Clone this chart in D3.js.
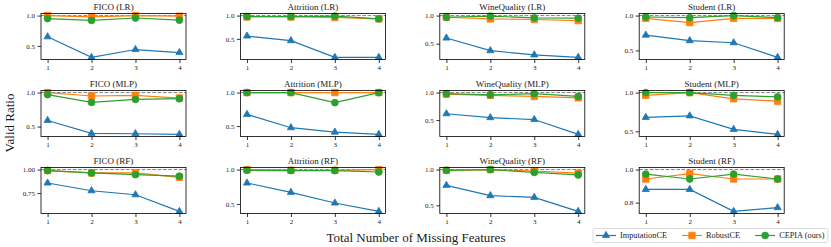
<!DOCTYPE html>
<html>
<head>
<meta charset="utf-8">
<script src="https://cdn.jsdelivr.net/npm/d3@7"></script>
<style>
body{margin:0;background:#fff}
svg text{font-family:"Liberation Serif","DejaVu Serif",serif;fill:#1a1a1a}
</style>
</head>
<body>
<svg id="chart" width="831" height="247"></svg>
<script>
var datasets = ['FICO','Attrition','WineQuality','Student'];
var models = ['LR','MLP','RF'];
var missing = [1,2,3,4];
var methods = ['ImputationCE','RobustCE','CEPIA (ours)'];
var colors = ['#1f77b4','#ff7f0e','#2ca02c'];
var shapes = ['triangle','square','circle'];

// [model][dataset] -> values at 1..4 missing features
var imputationCE = [
  [[0.65,0.31,0.44,0.39],[0.56,0.46,0.10,0.10],[0.60,0.375,0.30,0.255],[0.72,0.64,0.61,0.40]],
  [[0.59,0.40,0.395,0.385],[0.675,0.475,0.41,0.375],[0.615,0.545,0.51,0.24],[0.68,0.70,0.525,0.46]],
  [[0.857,0.775,0.732,0.555],[0.805,0.67,0.515,0.393],[0.78,0.635,0.612,0.415],[0.88,0.88,0.747,0.77]]
];
var robustCE = [
  [[1.0,0.98,1.0,0.99],[0.97,0.97,0.96,0.93],[0.97,0.94,0.93,0.91],[0.96,0.90,0.96,0.96]],
  [[1.0,0.95,0.96,0.92],[1.0,1.0,1.0,1.0],[0.97,0.95,0.93,0.905],[0.965,1.0,0.92,0.89]],
  [[0.99,0.964,0.964,0.918],[1.0,0.99,0.99,1.0],[0.99,1.0,0.98,0.95],[0.943,0.975,0.943,0.943]]
];
var cepia = [
  [[0.95,0.92,0.96,0.925],[0.98,0.98,0.99,0.93],[0.97,0.99,0.96,0.955],[0.98,0.97,1.0,0.97]],
  [[0.97,0.855,0.90,0.91],[1.0,1.0,0.85,1.0],[0.98,0.96,0.98,0.93],[1.0,1.0,0.965,0.945]],
  [[0.99,0.964,0.946,0.93],[0.99,0.985,0.985,0.965],[0.99,1.0,0.96,0.925],[0.973,0.943,0.973,0.943]]
];
var yTicks = [
  [[0.5,1.0],[0.5,1.0],[0.5,1.0],[0.5,1.0]],
  [[0.5,1.0],[0.5,1.0],[0.5,1.0],[0.5,1.0]],
  [[0.75,1.00],[0.5,1.0],[0.5,1.0],[0.8,1.0]]
];
var yTickFormat = [
  ['.1f','.1f','.1f','.1f'],
  ['.1f','.1f','.1f','.1f'],
  ['.2f','.1f','.1f','.1f']
];

var config = {
  left:41, colStep:199.4, top:13.5, rowStep:77,
  panelWidth:145, panelHeight:46,
  markerSize:7, lineWidth:1.2
};

var svg = d3.select('#chart');
var series = [imputationCE, robustCE, cepia];

function marker(sel, shape, color, size){
  var sym = shape=='triangle' ? d3.symbolTriangle : shape=='square' ? d3.symbolSquare : d3.symbolCircle;
  var area = shape=='triangle' ? size*size*0.45 : shape=='square' ? size*size*0.85 : size*size*0.75;
  sel.append('path')
    .attr('d', d3.symbol().type(sym).size(area)())
    .attr('fill', color)
    .attr('stroke', color)
    .attr('stroke-width', 0.8);
}

models.forEach(function(model, r){
  datasets.forEach(function(ds, c){
    var x0 = config.left + c*config.colStep;
    var y0 = config.top + r*config.rowStep;
    var g = svg.append('g').attr('transform','translate('+x0+','+y0+')');

    // matplotlib style autoscale with 5% margins, the 1.0 reference line included
    var all = [1.0];
    series.forEach(function(s){ all = all.concat(s[r][c]); });
    var ext = d3.extent(all);
    var pad = (ext[1]-ext[0])*0.05;
    var y = d3.scaleLinear().domain([ext[0]-pad, ext[1]+pad]).range([config.panelHeight,0]);
    var x = d3.scaleLinear().domain([0.85,4.15]).range([0,config.panelWidth]);

    g.append('line')
      .attr('x1',0).attr('x2',config.panelWidth)
      .attr('y1',y(1.0)).attr('y2',y(1.0))
      .attr('stroke','#808080').attr('stroke-width',1)
      .attr('stroke-dasharray','3.7,1.6');

    var line = d3.line().x(function(d,i){return x(missing[i])}).y(function(d){return y(d)});
    series.forEach(function(s, k){
      var vals = s[r][c];
      g.append('path')
        .attr('d', line(vals))
        .attr('fill','none')
        .attr('stroke', colors[k])
        .attr('stroke-width', config.lineWidth);
      vals.forEach(function(v, i){
        var m = g.append('g').attr('transform','translate('+x(missing[i])+','+y(v)+')');
        marker(m, shapes[k], colors[k], config.markerSize);
      });
    });

    var xAxis = g.append('g').attr('transform','translate(0,'+config.panelHeight+')')
      .call(d3.axisBottom(x).tickValues(missing).tickFormat(d3.format('d')).tickSize(3.5).tickPadding(2.5));
    var yAxis = g.append('g')
      .call(d3.axisLeft(y).tickValues(yTicks[r][c]).tickFormat(d3.format(yTickFormat[r][c])).tickSize(3.5).tickPadding(2.5));
    [xAxis, yAxis].forEach(function(a){
      a.select('.domain').remove();
      a.selectAll('line').attr('stroke','#000').attr('stroke-width',0.8);
      a.selectAll('text').attr('font-size','7px').attr('fill','#1a1a1a')
        .style('font-family','"Liberation Serif","DejaVu Serif",serif');
    });

    g.append('rect')
      .attr('width',config.panelWidth).attr('height',config.panelHeight)
      .attr('fill','none').attr('stroke','#000').attr('stroke-width',0.8);

    g.append('text')
      .attr('x',config.panelWidth/2).attr('y',-4)
      .attr('text-anchor','middle')
      .attr('font-size','9px')
      .text(ds+' ('+model+')');
  });
});

svg.append('text')
  .attr('x',416).attr('y',242)
  .attr('text-anchor','middle')
  .attr('font-size','13px')
  .text('Total Number of Missing Features');

svg.append('text')
  .attr('transform','translate(14,123) rotate(-90)')
  .attr('text-anchor','middle')
  .attr('font-size','13px')
  .text('Valid Ratio');

// legend
var legend = svg.append('g');
var box = legend.append('rect')
  .attr('x',593).attr('y',228.5).attr('width',235).attr('height',14)
  .attr('rx',2).attr('fill','#fff').attr('stroke','#d0d0d0').attr('stroke-width',0.8);
var lx = 596, ly = 235.5;
methods.forEach(function(name, k){
  legend.append('line')
    .attr('x1',lx).attr('x2',lx+20).attr('y1',ly).attr('y2',ly)
    .attr('stroke',colors[k]).attr('stroke-width',config.lineWidth);
  var m = legend.append('g').attr('transform','translate('+(lx+10)+','+ly+')');
  marker(m, shapes[k], colors[k], config.markerSize);
  var t = legend.append('text')
    .attr('x',lx+24).attr('y',ly+2.8)
    .attr('font-size','8.3px')
    .text(name);
  lx = lx + 24 + t.node().getComputedTextLength() + 15;
});
</script>
</body>
</html>
